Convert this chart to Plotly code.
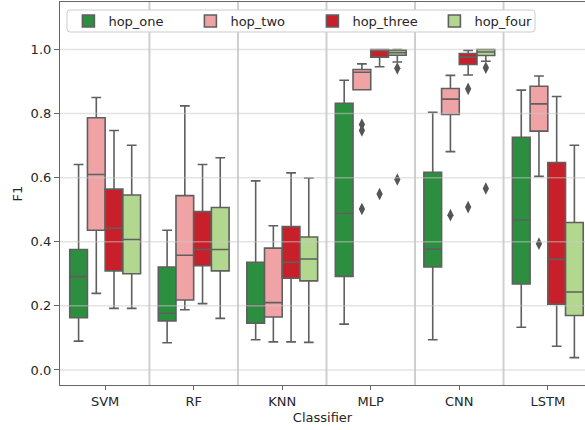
import plotly.graph_objects as go

classifiers = ["SVM", "RF", "KNN", "MLP", "CNN", "LSTM"]
hops = ["hop_one", "hop_two", "hop_three", "hop_four"]
colors = ["#2c8f3f", "#f0a3a4", "#c8202a", "#b2d88f"]

hop_one_lo = [0.090, 0.085, 0.094, 0.143, 0.094, 0.133]
hop_one_q1 = [0.163, 0.153, 0.146, 0.292, 0.321, 0.268]
hop_one_med = [0.291, 0.177, 0.202, 0.488, 0.377, 0.468]
hop_one_q3 = [0.376, 0.321, 0.336, 0.832, 0.617, 0.726]
hop_one_hi = [0.641, 0.436, 0.590, 0.904, 0.804, 0.873]

hop_two_lo = [0.239, 0.188, 0.0875, 0.874, 0.681, 0.604]
hop_two_q1 = [0.436, 0.218, 0.165, 0.874, 0.797, 0.745]
hop_two_med = [0.610, 0.358, 0.210, 0.929, 0.845, 0.830]
hop_two_q3 = [0.787, 0.544, 0.380, 0.9375, 0.878, 0.885]
hop_two_hi = [0.850, 0.824, 0.450, 0.955, 0.919, 0.917]

hop_three_lo = [0.192, 0.207, 0.0875, 0.946, 0.920, 0.074]
hop_three_q1 = [0.309, 0.325, 0.286, 0.976, 0.953, 0.205]
hop_three_med = [0.442, 0.376, 0.336, 0.998, 0.976, 0.345]
hop_three_q3 = [0.564, 0.494, 0.447, 1.0, 0.9875, 0.647]
hop_three_hi = [0.747, 0.641, 0.615, 1.0, 0.997, 0.853]

hop_four_lo = [0.192, 0.161, 0.086, 0.961, 0.963, 0.0385]
hop_four_q1 = [0.300, 0.309, 0.278, 0.982, 0.981, 0.170]
hop_four_med = [0.407, 0.376, 0.346, 0.990, 0.992, 0.243]
hop_four_q3 = [0.546, 0.507, 0.415, 0.998, 1.0, 0.460]
hop_four_hi = [0.701, 0.662, 0.599, 1.0, 1.0, 0.701]

hop_one_out_cls = []
hop_one_out_val = []
hop_two_out_cls = ["MLP", "MLP", "MLP", "CNN", "LSTM"]
hop_two_out_val = [0.766, 0.747, 0.502, 0.483, 0.394]
hop_three_out_cls = ["MLP", "CNN", "CNN"]
hop_three_out_val = [0.549, 0.877, 0.508]
hop_four_out_cls = ["MLP", "MLP", "CNN", "CNN"]
hop_four_out_val = [0.941, 0.594, 0.943, 0.566]

stats = {
    "hop_one": (hop_one_lo, hop_one_q1, hop_one_med, hop_one_q3, hop_one_hi, hop_one_out_cls, hop_one_out_val),
    "hop_two": (hop_two_lo, hop_two_q1, hop_two_med, hop_two_q3, hop_two_hi, hop_two_out_cls, hop_two_out_val),
    "hop_three": (hop_three_lo, hop_three_q1, hop_three_med, hop_three_q3, hop_three_hi, hop_three_out_cls, hop_three_out_val),
    "hop_four": (hop_four_lo, hop_four_q1, hop_four_med, hop_four_q3, hop_four_hi, hop_four_out_cls, hop_four_out_val),
}

offsets = [-0.3, -0.1, 0.1, 0.3]
line_col = "#5f5f5f"
fig = go.Figure()

for k, h in enumerate(hops):
    lo, q1, med, q3, hi, ocls, oval = stats[h]
    xs = [i + offsets[k] for i in range(len(classifiers))]
    fig.add_trace(go.Box(
        x=xs, q1=q1, median=med, q3=q3, lowerfence=lo, upperfence=hi,
        name=h, width=0.2, whiskerwidth=0.55,
        fillcolor=colors[k], line=dict(color=line_col, width=1.6),
        boxpoints=False, hoverinfo="skip",
    ))
    if ocls:
        ox = [classifiers.index(c) + offsets[k] for c in ocls]
        fig.add_trace(go.Scatter(
            x=ox, y=oval, mode="markers", showlegend=False, hoverinfo="skip",
            marker=dict(symbol="diamond-tall", size=9, color="#555555",
                        line=dict(width=0)),
        ))

shapes = []
for i in range(len(classifiers) - 1):
    shapes.append(dict(type="line", xref="x", yref="paper", x0=i + 0.5, x1=i + 0.5,
                       y0=0, y1=1, line=dict(color="#cfcfcf", width=2), layer="below"))
for v in [0.0, 0.2, 0.4, 0.6, 0.8, 1.0]:
    shapes.append(dict(type="line", xref="paper", yref="y", x0=0, x1=1, y0=v, y1=v,
                       line=dict(color="rgba(200,200,200,0.5)", width=1.5), layer="above"))

# legend frame (rounded rectangle, paper coordinates)
lx0, lx1, ly0, ly1 = 0.0133, 0.9048, 0.9217, 0.9791
rx, ry = 0.006, 0.008
frame_path = (f"M {lx0+rx},{ly0} L {lx1-rx},{ly0} Q {lx1},{ly0} {lx1},{ly0+ry} "
              f"L {lx1},{ly1-ry} Q {lx1},{ly1} {lx1-rx},{ly1} L {lx0+rx},{ly1} "
              f"Q {lx0},{ly1} {lx0},{ly1-ry} L {lx0},{ly0+ry} Q {lx0},{ly0} {lx0+rx},{ly0} Z")
shapes.append(dict(type="path", xref="paper", yref="paper", path=frame_path,
                   fillcolor="white", line=dict(color="#cccccc", width=1), layer="above"))

font = "DejaVu Sans, sans-serif"
txt = "#262626"
fig.update_layout(
    width=585, height=430,
    margin=dict(l=60, r=0, t=2, b=45, autoexpand=False),
    paper_bgcolor="white", plot_bgcolor="white",
    boxmode="overlay",
    font=dict(family=font, size=13, color=txt),
    shapes=shapes,
    legend=dict(orientation="h", x=0.016, y=0.9504, xanchor="left", yanchor="middle",
                bgcolor="rgba(0,0,0,0)", borderwidth=0,
                font=dict(size=13, color=txt),
                entrywidth=77, entrywidthmode="pixels", itemclick=False),
    xaxis=dict(range=[-0.51, 5.42], tickmode="array", automargin=False,
               tickvals=list(range(len(classifiers))), ticktext=classifiers,
               showgrid=False, zeroline=False, showline=True, mirror=True,
               linecolor="#666666", linewidth=1.2, ticks="outside", ticklen=4,
               tickcolor="#666666", tickfont=dict(color=txt, size=13),
               title=dict(text="Classifier", standoff=5, font=dict(color=txt, size=13))),
    yaxis=dict(range=[-0.047, 1.148], tickmode="array", automargin=False,
               tickvals=[0.0, 0.2, 0.4, 0.6, 0.8, 1.0],
               ticktext=["0.0", "0.2", "0.4", "0.6", "0.8", "1.0"],
               showgrid=False, zeroline=False, showline=True,
               linecolor="#666666", linewidth=1.2, ticks="outside", ticklen=5,
               tickcolor="#666666", tickfont=dict(color=txt, size=13),
               title=dict(text="F1", standoff=5, font=dict(color=txt, size=13))),
)

fig.write_html("out.html", config={"displayModeBar": False},
               post_script="document.body.style.margin='0';document.body.style.padding='0';")
